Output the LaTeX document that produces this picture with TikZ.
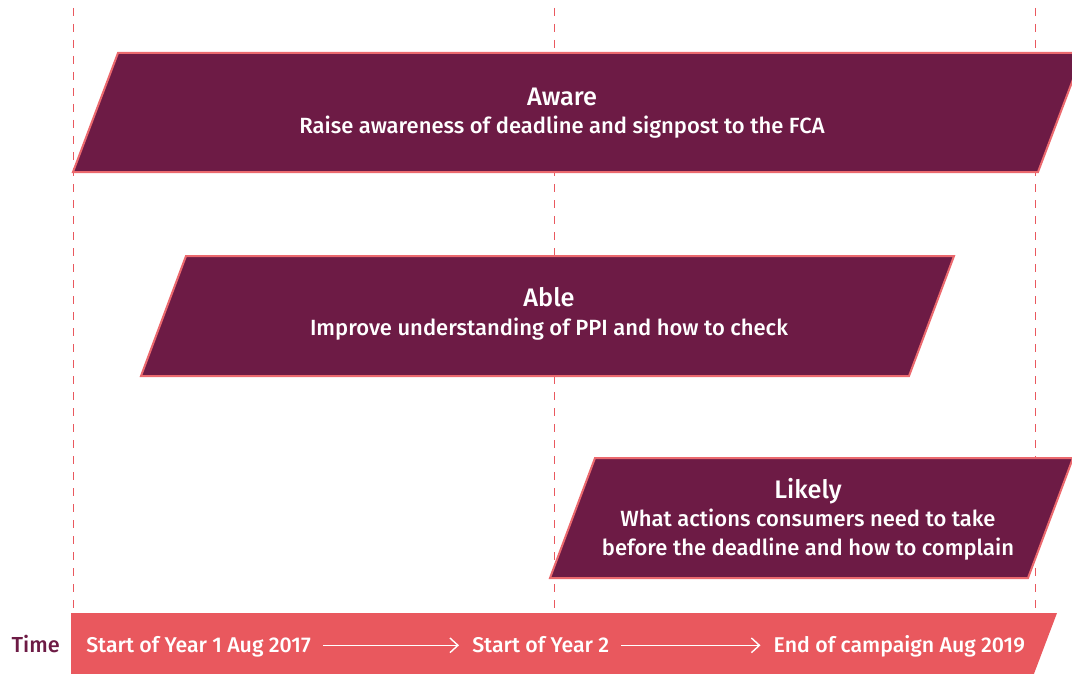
\documentclass[tikz,border=0pt]{standalone}
\usepackage{fontspec}
\setmainfont{Fira Sans}[BoldFont={* Medium}]
\usepackage{xcolor}
\usetikzlibrary{arrows.meta,positioning}
\newcommand{\myunit}{0.75pt}
\newcommand{\myslant}{45}
\definecolor{plum}{HTML}{6D1B45}
\definecolor{coral}{HTML}{E9585E}
\colorlet{edgecoral}{coral!90!white}
\tikzset{
    guidesty/.style={draw=coral,line width=1*\myunit,dash pattern=on 8*\myunit off 8*\myunit},
    phasesty/.style={fill=plum,draw=edgecoral,line width=2*\myunit,line join=miter},
    phasetxt/.style={text=white,align=center,font=\bfseries\fontsize{16.5}{21.5}\selectfont},
    barsty/.style={fill=coral},
    bartxt/.style={text=white,inner sep=0pt,font=\bfseries\fontsize{16}{19}\selectfont},
    arrsty/.style={->,draw=white,line width=1.4*\myunit,shorten <=12*\myunit,shorten >=13*\myunit},
}
% parallelogram from its bottom left corner, bottom width, height
\newcommand{\phasebox}[3]{\draw[phasesty] #1 -- ++(\myslant,-#3) -- ++(#2,0) -- ++(-\myslant,#3) -- cycle;}
\newcommand{\phasehead}[1]{{\fontsize{19}{21.5}\selectfont #1}}

\begin{document}
\begin{tikzpicture}[>={Straight Barb[length=6pt,width=11pt]},x=\myunit,y=-\myunit]
\useasboundingbox (0,0) rectangle (1072,674);

% time markers
\foreach \x in {73,554,1035}
  \draw[guidesty] (\x,8) -- (\x,612);

% phases
\phasebox{(73,172)}{965}{119}
\phasebox{(141,376)}{768}{120}
\phasebox{(550,578)}{478}{120}

\node[phasetxt] (aware) at (562,113)
  {\phasehead{Aware}\\Raise awareness of deadline and signpost to the FCA};
\node[phasetxt] (able) at (549,314)
  {\phasehead{Able}\\Improve understanding of PPI and how to check};
\node[phasetxt] (likely) at (808,519)
  {\phasehead{Likely}\\What actions consumers need to take\\before the deadline and how to complain};

% time line
\fill[barsty] (71,613) -- (1057,613) -- (1030.5,683) -- (71,683) -- cycle;
\node[text=plum,anchor=base east,inner sep=0pt,font=\bfseries\fontsize{16.3}{19}\selectfont] (time) at (60,652) {Time};
\node[bartxt,anchor=base west] (yearone) at (86,652) {Start of Year 1 Aug 2017};
\node[bartxt,base right=161*\myunit of yearone] (yeartwo) {Start of Year 2};
\node[bartxt,base right=164*\myunit of yeartwo] (campend) {End of campaign Aug 2019};

\draw[arrsty] ([yshift=5pt]yearone.base east) -- ([yshift=5pt]yeartwo.base west);
\draw[arrsty] ([yshift=5pt]yeartwo.base east) -- ([yshift=5pt]campend.base west);
\end{tikzpicture}
\end{document}
